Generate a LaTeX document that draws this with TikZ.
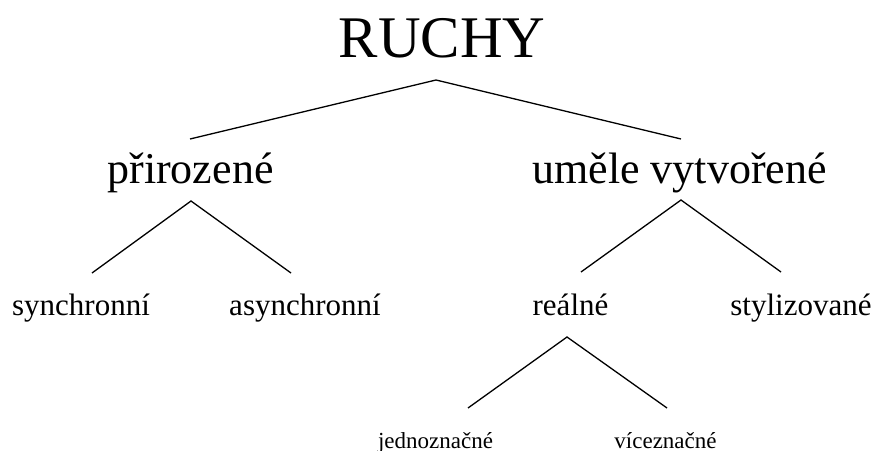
\documentclass[tikz,border=0pt]{standalone}
\usepackage{fontspec}
\setmainfont{Liberation Serif}
\begin{document}
\begin{tikzpicture}[x=1pt,y=-1pt,
  lvlzero/.style={anchor=base,inner sep=0pt,font=\fontsize{59}{59}\selectfont},
  lvlone/.style={anchor=base,inner sep=0pt,font=\fontsize{44}{44}\selectfont},
  lvltwo/.style={anchor=base,inner sep=0pt,font=\fontsize{31}{31}\selectfont},
  lvlthree/.style={anchor=base,inner sep=0pt,font=\fontsize{23}{23}\selectfont},
  branch/.style={line width=1.3pt,line join=miter}]
\useasboundingbox (0,0) rectangle (875,450);

% labels
\node[lvlzero] (ruchy) at (442,57) {RUCHY};
\node[lvlone] (prir) at (190.5,183) {přirozené};
\node[lvlone] (umel) at (679.5,183) {uměle vytvořené};
\node[lvltwo] (sync) at (81,315) {synchronní};
\node[lvltwo] (async) at (305,315) {asynchronní};
\node[lvltwo] (real) at (570.5,315) {reálné};
\node[lvltwo] (styl) at (801,315) {stylizované};
\node[lvlthree] (jedn) at (435.5,448) {jednoznačné};
\node[lvlthree] (vice) at (665.5,448) {víceznačné};

% branch points
\coordinate (ruchyTop) at (436,80);
\coordinate (ruchyL) at (190,139);
\coordinate (ruchyR) at (681,139);
\coordinate (prirTop) at (191,201);
\coordinate (prirL) at (92,273);
\coordinate (prirR) at (291,273);
\coordinate (umelTop) at (681,200);
\coordinate (umelL) at (581,272);
\coordinate (umelR) at (781,272);
\coordinate (realTop) at (567,337);
\coordinate (realL) at (468,408);
\coordinate (realR) at (667,408);

% branches
\draw[branch] (ruchyL) -- (ruchyTop) -- (ruchyR);
\draw[branch] (prirL) -- (prirTop) -- (prirR);
\draw[branch] (umelL) -- (umelTop) -- (umelR);
\draw[branch] (realL) -- (realTop) -- (realR);
\end{tikzpicture}
\end{document}
